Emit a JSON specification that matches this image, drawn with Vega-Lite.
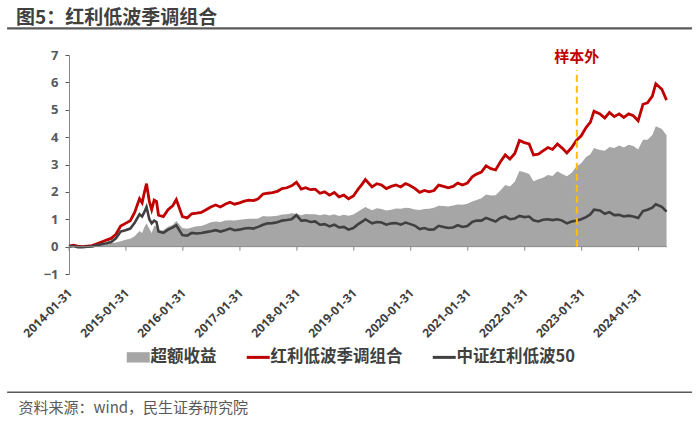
{
  "$schema": "https://vega.github.io/schema/vega-lite/v6.json",
  "autosize": {"type": "none"},
  "padding": {"left": 69, "top": 55, "right": 33, "bottom": 148},
  "width": 598,
  "height": 219,
  "background": "white",
  "config": {"view": {"stroke": null}, "font": "Noto Sans CJK SC", "axis": {"grid": false}, "axisY": {"labelOverlap": false, "tickCount": 9}},
  "title": {"text": "图5：红利低波季调组合", "anchor": "start", "frame": "bounds", "dx": 10, "offset": -16, "baseline": "alphabetic", "fontSize": 19, "fontWeight": "bold", "color": "#404040", "font": "Noto Sans CJK SC"},
  "datasets": {
    "main": [
      {"d": "2014-01-31", "r": 0.02, "k": 0.00, "e": 0.02},
      {"d": "2014-02-28", "r": 0.05, "k": 0.02, "e": 0.03},
      {"d": "2014-03-28", "r": 0.02, "k": -0.02, "e": 0.04},
      {"d": "2014-04-28", "r": 0.00, "k": -0.02, "e": 0.02},
      {"d": "2014-05-28", "r": 0.02, "k": 0.00, "e": 0.02},
      {"d": "2014-06-28", "r": 0.04, "k": 0.01, "e": 0.03},
      {"d": "2014-07-28", "r": 0.10, "k": 0.05, "e": 0.05},
      {"d": "2014-08-28", "r": 0.17, "k": 0.09, "e": 0.08},
      {"d": "2014-09-28", "r": 0.24, "k": 0.12, "e": 0.12},
      {"d": "2014-10-28", "r": 0.30, "k": 0.17, "e": 0.13},
      {"d": "2014-11-28", "r": 0.45, "k": 0.30, "e": 0.15},
      {"d": "2014-12-28", "r": 0.75, "k": 0.55, "e": 0.20},
      {"d": "2015-01-28", "r": 0.85, "k": 0.60, "e": 0.25},
      {"d": "2015-02-28", "r": 0.95, "k": 0.66, "e": 0.29},
      {"d": "2015-03-28", "r": 1.25, "k": 0.87, "e": 0.38},
      {"d": "2015-04-28", "r": 1.75, "k": 1.18, "e": 0.57},
      {"d": "2015-05-15", "r": 1.60, "k": 1.10, "e": 0.50},
      {"d": "2015-05-28", "r": 1.95, "k": 1.25, "e": 0.70},
      {"d": "2015-06-12", "r": 2.30, "k": 1.45, "e": 0.85},
      {"d": "2015-06-30", "r": 1.65, "k": 1.00, "e": 0.65},
      {"d": "2015-07-15", "r": 1.35, "k": 0.85, "e": 0.50},
      {"d": "2015-07-31", "r": 1.70, "k": 0.95, "e": 0.75},
      {"d": "2015-08-15", "r": 1.65, "k": 0.90, "e": 0.75},
      {"d": "2015-08-28", "r": 1.15, "k": 0.55, "e": 0.60},
      {"d": "2015-09-28", "r": 1.10, "k": 0.50, "e": 0.60},
      {"d": "2015-10-28", "r": 1.35, "k": 0.62, "e": 0.73},
      {"d": "2015-11-28", "r": 1.50, "k": 0.70, "e": 0.80},
      {"d": "2015-12-20", "r": 1.72, "k": 0.78, "e": 0.94},
      {"d": "2016-01-28", "r": 1.10, "k": 0.42, "e": 0.68},
      {"d": "2016-02-28", "r": 1.05, "k": 0.40, "e": 0.65},
      {"d": "2016-03-28", "r": 1.20, "k": 0.50, "e": 0.70},
      {"d": "2016-04-28", "r": 1.22, "k": 0.48, "e": 0.74},
      {"d": "2016-05-28", "r": 1.25, "k": 0.50, "e": 0.75},
      {"d": "2016-06-28", "r": 1.35, "k": 0.53, "e": 0.82},
      {"d": "2016-07-28", "r": 1.45, "k": 0.56, "e": 0.89},
      {"d": "2016-08-28", "r": 1.52, "k": 0.60, "e": 0.92},
      {"d": "2016-09-28", "r": 1.45, "k": 0.55, "e": 0.90},
      {"d": "2016-10-28", "r": 1.55, "k": 0.60, "e": 0.95},
      {"d": "2016-11-28", "r": 1.62, "k": 0.66, "e": 0.96},
      {"d": "2016-12-28", "r": 1.55, "k": 0.60, "e": 0.95},
      {"d": "2017-01-28", "r": 1.60, "k": 0.62, "e": 0.98},
      {"d": "2017-02-28", "r": 1.66, "k": 0.66, "e": 1.00},
      {"d": "2017-03-28", "r": 1.70, "k": 0.68, "e": 1.02},
      {"d": "2017-04-28", "r": 1.68, "k": 0.66, "e": 1.02},
      {"d": "2017-05-28", "r": 1.75, "k": 0.72, "e": 1.03},
      {"d": "2017-06-28", "r": 1.92, "k": 0.80, "e": 1.12},
      {"d": "2017-07-28", "r": 1.95, "k": 0.85, "e": 1.10},
      {"d": "2017-08-28", "r": 1.97, "k": 0.86, "e": 1.11},
      {"d": "2017-09-28", "r": 2.02, "k": 0.89, "e": 1.13},
      {"d": "2017-10-28", "r": 2.12, "k": 0.95, "e": 1.17},
      {"d": "2017-11-28", "r": 2.15, "k": 0.97, "e": 1.18},
      {"d": "2017-12-28", "r": 2.22, "k": 1.00, "e": 1.22},
      {"d": "2018-01-28", "r": 2.35, "k": 1.15, "e": 1.20},
      {"d": "2018-02-28", "r": 2.10, "k": 0.95, "e": 1.15},
      {"d": "2018-03-28", "r": 2.15, "k": 0.96, "e": 1.19},
      {"d": "2018-04-28", "r": 2.08, "k": 0.90, "e": 1.18},
      {"d": "2018-05-28", "r": 2.10, "k": 0.92, "e": 1.18},
      {"d": "2018-06-28", "r": 1.95, "k": 0.80, "e": 1.15},
      {"d": "2018-07-28", "r": 2.00, "k": 0.82, "e": 1.18},
      {"d": "2018-08-28", "r": 1.88, "k": 0.74, "e": 1.14},
      {"d": "2018-09-28", "r": 1.98, "k": 0.80, "e": 1.18},
      {"d": "2018-10-28", "r": 1.82, "k": 0.70, "e": 1.12},
      {"d": "2018-11-28", "r": 1.88, "k": 0.72, "e": 1.16},
      {"d": "2018-12-28", "r": 1.75, "k": 0.62, "e": 1.13},
      {"d": "2019-01-28", "r": 1.85, "k": 0.68, "e": 1.17},
      {"d": "2019-02-28", "r": 2.10, "k": 0.82, "e": 1.28},
      {"d": "2019-03-28", "r": 2.30, "k": 0.92, "e": 1.38},
      {"d": "2019-04-15", "r": 2.45, "k": 1.00, "e": 1.45},
      {"d": "2019-05-28", "r": 2.18, "k": 0.85, "e": 1.33},
      {"d": "2019-06-28", "r": 2.30, "k": 0.90, "e": 1.40},
      {"d": "2019-07-28", "r": 2.25, "k": 0.88, "e": 1.37},
      {"d": "2019-08-28", "r": 2.12, "k": 0.80, "e": 1.32},
      {"d": "2019-09-28", "r": 2.20, "k": 0.85, "e": 1.35},
      {"d": "2019-10-28", "r": 2.25, "k": 0.86, "e": 1.39},
      {"d": "2019-11-28", "r": 2.18, "k": 0.80, "e": 1.38},
      {"d": "2019-12-28", "r": 2.30, "k": 0.88, "e": 1.42},
      {"d": "2020-01-20", "r": 2.25, "k": 0.84, "e": 1.41},
      {"d": "2020-02-28", "r": 2.12, "k": 0.76, "e": 1.36},
      {"d": "2020-03-28", "r": 1.98, "k": 0.64, "e": 1.34},
      {"d": "2020-04-28", "r": 2.05, "k": 0.68, "e": 1.37},
      {"d": "2020-05-28", "r": 2.00, "k": 0.62, "e": 1.38},
      {"d": "2020-06-28", "r": 2.05, "k": 0.63, "e": 1.42},
      {"d": "2020-07-28", "r": 2.25, "k": 0.76, "e": 1.49},
      {"d": "2020-08-28", "r": 2.20, "k": 0.72, "e": 1.48},
      {"d": "2020-09-28", "r": 2.15, "k": 0.68, "e": 1.47},
      {"d": "2020-10-28", "r": 2.20, "k": 0.70, "e": 1.50},
      {"d": "2020-11-28", "r": 2.32, "k": 0.78, "e": 1.54},
      {"d": "2020-12-28", "r": 2.25, "k": 0.72, "e": 1.53},
      {"d": "2021-01-28", "r": 2.32, "k": 0.75, "e": 1.57},
      {"d": "2021-02-28", "r": 2.55, "k": 0.90, "e": 1.65},
      {"d": "2021-03-28", "r": 2.65, "k": 0.95, "e": 1.70},
      {"d": "2021-04-28", "r": 2.72, "k": 0.95, "e": 1.77},
      {"d": "2021-05-28", "r": 2.95, "k": 1.05, "e": 1.90},
      {"d": "2021-06-28", "r": 2.85, "k": 0.98, "e": 1.87},
      {"d": "2021-07-28", "r": 2.80, "k": 0.92, "e": 1.88},
      {"d": "2021-08-28", "r": 3.10, "k": 1.05, "e": 2.05},
      {"d": "2021-09-28", "r": 3.35, "k": 1.10, "e": 2.25},
      {"d": "2021-10-28", "r": 3.20, "k": 1.00, "e": 2.20},
      {"d": "2021-11-28", "r": 3.40, "k": 1.03, "e": 2.37},
      {"d": "2021-12-28", "r": 3.88, "k": 1.12, "e": 2.76},
      {"d": "2022-01-28", "r": 3.80, "k": 1.08, "e": 2.72},
      {"d": "2022-02-28", "r": 3.75, "k": 1.10, "e": 2.65},
      {"d": "2022-03-28", "r": 3.35, "k": 0.96, "e": 2.39},
      {"d": "2022-04-28", "r": 3.38, "k": 0.92, "e": 2.46},
      {"d": "2022-05-28", "r": 3.50, "k": 0.98, "e": 2.52},
      {"d": "2022-06-28", "r": 3.62, "k": 1.00, "e": 2.62},
      {"d": "2022-07-28", "r": 3.55, "k": 0.97, "e": 2.58},
      {"d": "2022-08-28", "r": 3.75, "k": 1.00, "e": 2.75},
      {"d": "2022-09-28", "r": 3.60, "k": 0.95, "e": 2.65},
      {"d": "2022-10-28", "r": 3.42, "k": 0.85, "e": 2.57},
      {"d": "2022-11-28", "r": 3.62, "k": 0.92, "e": 2.70},
      {"d": "2022-12-28", "r": 3.88, "k": 0.95, "e": 2.93},
      {"d": "2023-01-28", "r": 4.05, "k": 1.00, "e": 3.05},
      {"d": "2023-02-28", "r": 4.35, "k": 1.08, "e": 3.27},
      {"d": "2023-03-28", "r": 4.55, "k": 1.18, "e": 3.37},
      {"d": "2023-04-20", "r": 4.95, "k": 1.35, "e": 3.60},
      {"d": "2023-05-28", "r": 4.85, "k": 1.32, "e": 3.53},
      {"d": "2023-06-28", "r": 4.70, "k": 1.20, "e": 3.50},
      {"d": "2023-07-28", "r": 4.90, "k": 1.26, "e": 3.64},
      {"d": "2023-08-28", "r": 4.75, "k": 1.15, "e": 3.60},
      {"d": "2023-09-28", "r": 4.85, "k": 1.16, "e": 3.69},
      {"d": "2023-10-28", "r": 4.72, "k": 1.10, "e": 3.62},
      {"d": "2023-11-28", "r": 4.85, "k": 1.13, "e": 3.72},
      {"d": "2023-12-28", "r": 4.78, "k": 1.10, "e": 3.68},
      {"d": "2024-01-28", "r": 4.60, "k": 1.05, "e": 3.55},
      {"d": "2024-02-28", "r": 5.20, "k": 1.30, "e": 3.90},
      {"d": "2024-03-28", "r": 5.25, "k": 1.35, "e": 3.90},
      {"d": "2024-04-28", "r": 5.50, "k": 1.42, "e": 4.08},
      {"d": "2024-05-20", "r": 5.95, "k": 1.55, "e": 4.40},
      {"d": "2024-06-28", "r": 5.75, "k": 1.45, "e": 4.30},
      {"d": "2024-07-28", "r": 5.35, "k": 1.28, "e": 4.07}
    ],
    "ticks": [
      {"d": "2014-01-31"}, {"d": "2015-01-31"}, {"d": "2016-01-31"}, {"d": "2017-01-31"},
      {"d": "2018-01-31"}, {"d": "2019-01-31"}, {"d": "2020-01-31"}, {"d": "2021-01-31"},
      {"d": "2022-01-31"}, {"d": "2023-01-31"}, {"d": "2024-01-31"}
    ],
    "one": [{"n": 1}]
  },
  "layer": [
    {
      "data": {"name": "main"},
      "mark": {"type": "area", "color": "#A6A6A6"},
      "encoding": {
        "x": {
          "field": "d", "type": "temporal",
          "scale": {"type": "utc", "nice": false, "domain": [{"year": 2014, "month": 1, "date": 31, "utc": true}, {"year": 2024, "month": 7, "date": 31, "utc": true}]},
          "axis": {
            "values": [
              {"year": 2014, "month": 1, "date": 31, "utc": true},
              {"year": 2015, "month": 1, "date": 31, "utc": true},
              {"year": 2016, "month": 1, "date": 31, "utc": true},
              {"year": 2017, "month": 1, "date": 31, "utc": true},
              {"year": 2018, "month": 1, "date": 31, "utc": true},
              {"year": 2019, "month": 1, "date": 31, "utc": true},
              {"year": 2020, "month": 1, "date": 31, "utc": true},
              {"year": 2021, "month": 1, "date": 31, "utc": true},
              {"year": 2022, "month": 1, "date": 31, "utc": true},
              {"year": 2023, "month": 1, "date": 31, "utc": true},
              {"year": 2024, "month": 1, "date": 31, "utc": true}
            ],
            "format": "%Y-%m-%d",
            "labelAngle": -45, "labelAlign": "right", "labelBaseline": "top",
            "domain": false, "ticks": false, "labelPadding": 13, "labelOffset": -3,
            "labelFontSize": 12, "labelFontWeight": "bold", "labelColor": "#404040", "labelFont": "Open Sans",
            "labelOverlap": false, "labelFlush": false,
            "title": "资料来源：wind，民生证券研究院",
            "titleAnchor": "start", "titleAlign": "left", "titleBaseline": "middle",
            "titleX": -51, "titleY": 133,
            "titleFontSize": 15, "titleFontWeight": "normal", "titleColor": "#595959", "titleFont": "Noto Sans CJK SC"
          }
        },
        "y": {
          "field": "e", "type": "quantitative",
          "scale": {"domain": [-1, 7], "nice": false, "zero": false},
          "axis": {
            "values": [-1, 0, 1, 2, 3, 4, 5, 6, 7],
            "tickCount": 9,
            "title": null, "domain": true, "domainColor": "#898989", "ticks": true, "tickColor": "#595959", "tickSize": 4,
            "labelOverlap": false, "labelFlush": false, "labelBound": false,
            "labelFontSize": 13, "labelFontWeight": "bold", "labelColor": "#595959", "labelFont": "Open Sans", "labelPadding": 7
          }
        },
        "y2": {"datum": 0},
        "color": {
          "datum": "超额收益", "type": "nominal",
          "scale": {"domain": ["超额收益", "红利低波季调组合", "中证红利低波50"], "range": ["#A6A6A6", "#C00000", "#404040"]},
          "legend": {
            "orient": "none", "legendX": 61, "legendY": 294, "direction": "horizontal", "columns": 3, "title": null,
            "labelFontSize": 16.5, "labelFontWeight": "bold", "labelColor": "#404040", "labelFont": "Noto Sans CJK SC",
            "symbolSize": 529, "labelOffset": 4, "columnPadding": 23,
            "encode": {
              "symbols": {
                "update": {
                  "fill": {"scale": "color", "field": "value"},
                  "stroke": {"scale": "color", "field": "value"},
                  "shape": {"signal": "datum.value === '超额收益' ? 'M-1,-0.45H1V0.45H-1Z' : 'stroke'"},
                  "strokeWidth": {"signal": "datum.value === '超额收益' ? 0 : 3"},
                  "opacity": {"value": 1}
                }
              }
            }
          }
        }
      }
    },
    {
      "data": {"name": "main"},
      "mark": {"type": "line", "strokeWidth": 2.8},
      "encoding": {
        "x": {"field": "d", "type": "temporal"},
        "y": {"field": "r", "type": "quantitative"},
        "color": {"datum": "红利低波季调组合", "type": "nominal"}
      }
    },
    {
      "data": {"name": "main"},
      "mark": {"type": "line", "strokeWidth": 2.6},
      "encoding": {
        "x": {"field": "d", "type": "temporal"},
        "y": {"field": "k", "type": "quantitative"},
        "color": {"datum": "中证红利低波50", "type": "nominal"}
      }
    },
    {
      "data": {"name": "one"},
      "mark": {"type": "rule", "color": "#898989", "strokeWidth": 1},
      "encoding": {"y": {"datum": 0}}
    },
    {
      "data": {"name": "ticks"},
      "mark": {"type": "rule", "color": "#898989", "strokeWidth": 1},
      "encoding": {
        "x": {"field": "d", "type": "temporal"},
        "y": {"datum": 0},
        "y2": {"datum": -0.15}
      }
    },
    {
      "data": {"name": "one"},
      "mark": {"type": "rule", "color": "#FFC000", "strokeWidth": 2, "strokeDash": [7, 4]},
      "encoding": {
        "x": {"datum": {"year": 2022, "month": 12, "date": 31, "utc": true}},
        "y": {"datum": 0},
        "y2": {"datum": 6.45}
      }
    },
    {
      "data": {"name": "one"},
      "mark": {"type": "text", "text": "样本外", "fontSize": 15, "fontWeight": "bold", "color": "#C00000", "align": "center", "baseline": "middle", "font": "Noto Sans CJK SC"},
      "encoding": {
        "x": {"datum": {"year": 2022, "month": 12, "date": 31, "utc": true}},
        "y": {"datum": 6.94}
      }
    },
    {
      "data": {"name": "one"},
      "mark": {"type": "rule", "color": "#595959", "strokeWidth": 2.2, "clip": false},
      "encoding": {
        "x": {"datum": {"year": 2012, "month": 12, "date": 30, "utc": true}},
        "x2": {"datum": {"year": 2025, "month": 1, "date": 7, "utc": true}},
        "y": {"datum": 7.975}
      }
    },
    {
      "data": {"name": "one"},
      "mark": {"type": "rule", "color": "#595959", "strokeWidth": 1.6, "clip": false},
      "encoding": {
        "x": {"datum": {"year": 2012, "month": 12, "date": 30, "utc": true}},
        "x2": {"datum": {"year": 2025, "month": 1, "date": 7, "utc": true}},
        "y": {"datum": -5.32}
      }
    }
  ]
}
